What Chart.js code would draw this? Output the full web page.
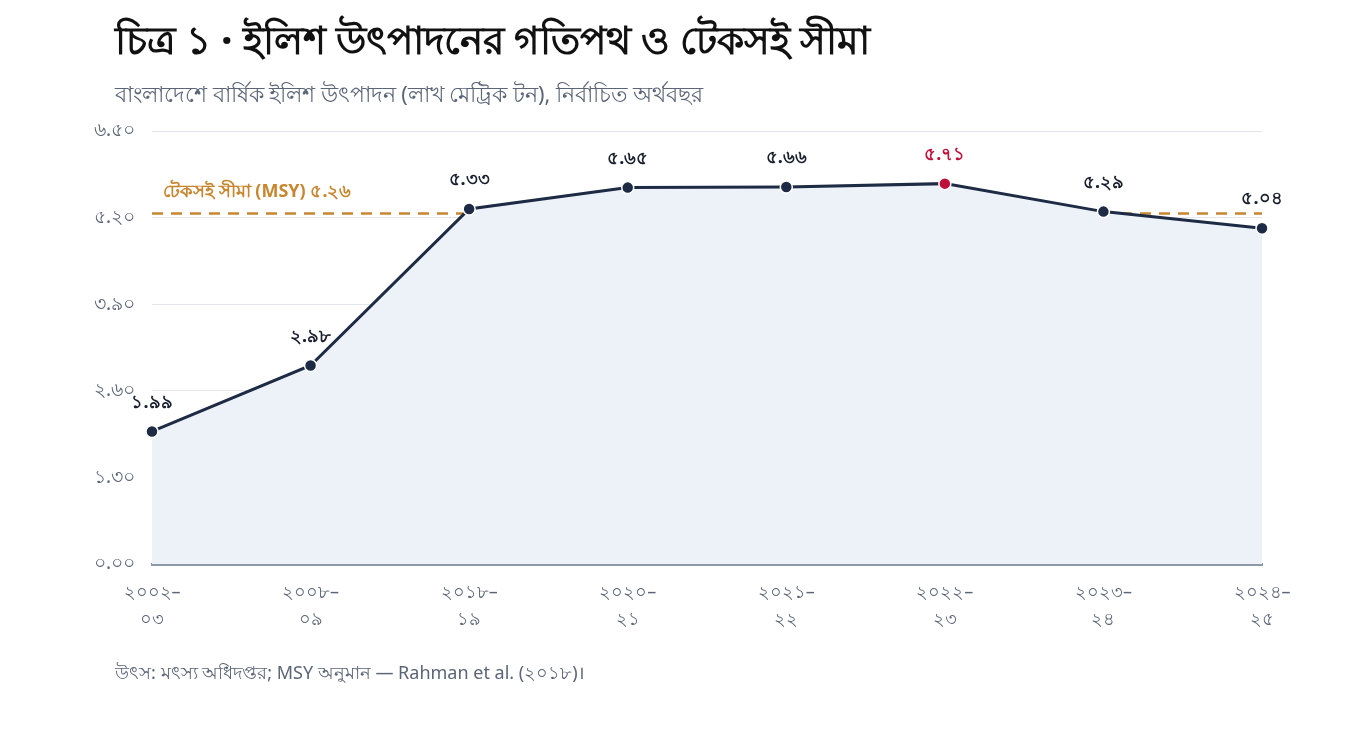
<!DOCTYPE html>
<html>
<head>
<meta charset="utf-8">
<script src="https://cdn.jsdelivr.net/npm/chart.js@4.4.1/dist/chart.umd.min.js"></script>
<style>
  html, body { margin: 0; padding: 0; background: #fff; }
  body { width: 1366px; height: 730px; position: relative; overflow: hidden; font-family: "Noto Sans", sans-serif; }
  #title { position: absolute; left: 115px; top: 10px; font-size: 39px; font-weight: 800; color: #111; white-space: nowrap; }
  #subtitle { position: absolute; left: 115px; top: 78px; font-size: 21.5px; color: #5b6577; white-space: nowrap; }
  #source { position: absolute; left: 115px; top: 659px; font-size: 18px; color: #5b6577; white-space: nowrap; }
  #wrap { position: absolute; left: 0; top: 0; width: 1366px; height: 730px; }
</style>
</head>
<body>
<div id="wrap"><canvas id="chart"></canvas></div>
<div id="title">চিত্র ১ · ইলিশ উৎপাদনের গতিপথ ও টেকসই সীমা</div>
<div id="subtitle">বাংলাদেশে বার্ষিক ইলিশ উৎপাদন (লাখ মেট্রিক টন), নির্বাচিত অর্থবছর</div>
<div id="source">উৎস: মৎস্য অধিদপ্তর; MSY অনুমান — Rahman et al. (২০১৮)।</div>
<script>
// fiscal years, two lines each
const years = [
    ['২০০২–', '০৩'],
    ['২০০৮–', '০৯'],
    ['২০১৮–', '১৯'],
    ['২০২০–', '২১'],
    ['২০২১–', '২২'],
    ['২০২২–', '২৩'],
    ['২০২৩–', '২৪'],
    ['২০২৪–', '২৫']
];
const production = [1.99, 2.98, 5.33, 5.65, 5.66, 5.71, 5.29, 5.04];
const msy = 5.26;
const msyLabel = 'টেকসই সীমা (MSY) ৫.২৬';
const peakIndex = 5;

const bnDigits = ['০','১','২','৩','৪','৫','৬','৭','৮','৯'];
function toBn(str) {
    return String(str).replace(/[0-9]/g, d => bnDigits[+d]);
}

const navy = '#1e2b45';
const crimson = '#c0103a';
const orange = '#c88630';

const pointColors = production.map((v, i) => i === peakIndex ? crimson : navy);

// value labels above points + MSY caption
const labelPlugin = {
    id: 'labels',
    afterDatasetsDraw(chart) {
        const ctx = chart.ctx;
        const meta = chart.getDatasetMeta(0);
        ctx.save();
        ctx.font = 'bold 18px "Noto Sans", sans-serif';
        ctx.textAlign = 'center';
        ctx.textBaseline = 'middle';
        meta.data.forEach((pt, i) => {
            ctx.fillStyle = i === peakIndex ? crimson : '#1a1f2e';
            ctx.fillText(toBn(production[i].toFixed(2)), pt.x, pt.y - 29);
        });
        const y = chart.scales.y.getPixelForValue(msy);
        ctx.font = 'bold 18px "Noto Sans", sans-serif';
        ctx.textAlign = 'left';
        ctx.fillStyle = orange;
        ctx.fillText(msyLabel, chart.chartArea.left + 11, y - 22);
        ctx.restore();
    }
};

new Chart(document.getElementById('chart'), {
    type: 'line',
    data: {
        labels: years,
        datasets: [{
            label: 'উৎপাদন',
            data: production,
            borderColor: navy,
            borderWidth: 3,
            backgroundColor: '#edf1f8',
            fill: 'origin',
            tension: 0,
            pointRadius: 6,
            pointBackgroundColor: pointColors,
            pointBorderColor: '#ffffff',
            pointBorderWidth: 1.5,
            order: 0
        }, {
            label: 'MSY',
            data: years.map(() => msy),
            borderColor: orange,
            borderWidth: 2.5,
            borderDash: [11, 8],
            pointRadius: 0,
            fill: false,
            order: 1
        }]
    },
    options: {
        responsive: true,
        maintainAspectRatio: false,
        animation: false,
        events: [],
        layout: { padding: { left: 92, right: 104, top: 131, bottom: 82 } },
        plugins: {
            legend: { display: false },
            tooltip: { enabled: false }
        },
        scales: {
            x: {
                offset: false,
                grid: { display: false, drawTicks: false },
                border: { display: true, color: '#8e98a8', width: 3 },
                ticks: {
                    color: '#5b6577',
                    padding: 15,
                    maxRotation: 0,
                    autoSkip: false,
                    font: { size: 18, family: '"Noto Sans", sans-serif', lineHeight: 1.5 }
                }
            },
            y: {
                min: 0,
                max: 6.5,
                afterFit(scale) { scale.width = 60; },
                grid: { color: '#e3e6ea', lineWidth: 1, drawTicks: false },
                border: { display: false },
                ticks: {
                    stepSize: 1.3,
                    padding: 17,
                    color: '#5b6577',
                    font: { size: 19, family: '"Noto Sans", sans-serif' },
                    callback: v => toBn(v.toFixed(2))
                }
            }
        }
    },
    plugins: [labelPlugin]
});
</script>
</body>
</html>
